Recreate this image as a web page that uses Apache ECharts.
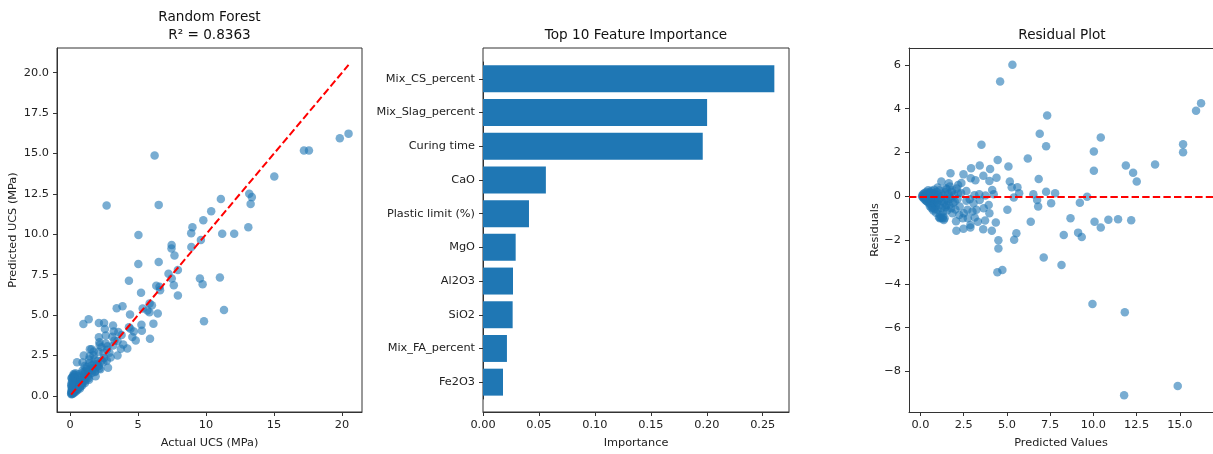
<!DOCTYPE html>
<html>
<head>
<meta charset="utf-8">
<script src="https://cdn.jsdelivr.net/npm/echarts@6.0.0/dist/echarts.min.js"></script>
<style>
  html, body { margin: 0; padding: 0; background: #ffffff; }
  #chart { width: 1213px; height: 454px; }
</style>
</head>
<body>
<div id="chart"></div>
<script>
// Test-set measurements (MPa): observed strength and the Random Forest prediction, paired by index.
const actualUCS = [
  11.32, 9.85, 11.02, 9.75, 9.55, 5.88, 7.93, 6.13, 13.11, 12.07,
  11.19, 13.28, 13.37, 13.18, 15.02, 17.57, 17.20, 19.84, 20.48, 5.03,
  6.52, 2.69, 6.22, 4.33, 5.02, 0.98, 1.37, 2.12, 2.50, 3.43,
  3.86, 6.52, 7.68, 7.46, 7.47, 8.92, 9.62, 8.91, 9.00, 9.80,
  10.38, 11.09, 5.22, 4.41, 7.63, 6.34, 6.58, 6.62, 7.24, 7.48,
  7.93, 6.45, 5.84, 5.69, 6.02, 5.85, 5.34, 5.25, 5.28, 4.83,
  4.58, 4.69, 4.44, 4.33, 3.79, 3.55, 3.21, 2.63, 2.12, 2.56,
  3.16, 2.16, 3.11, 4.21, 3.91, 3.49, 3.73, 2.98, 2.70, 2.90,
  3.17, 3.49, 2.71, 2.75, 2.10, 2.31, 1.74, 1.58, 2.17, 1.45,
  1.01, 1.46, 0.51, 0.92, 1.07, 2.79, 1.88, 2.23, 2.02, 1.75,
  1.10, 0.38, 0.12, 0.27, 1.80, 2.32, 2.46, 1.73, 2.62, 3.26,
  1.68, 1.84,
  0.10, 0.17, 0.08, 0.26, 0.15, 0.22, 0.10, 0.39, 0.21, 0.34,
  0.12, 0.30, 0.54, 0.26, 0.46, 0.15, 0.38, 0.56, 0.31, 0.51,
  0.18, 0.44, 0.72, 0.36, 0.58, 0.20, 0.50, 0.89, 0.38, 0.74,
  0.20, 0.66, 0.88, 0.41, 0.63, 1.10, 0.24, 0.86, 0.62, 0.98,
  0.45, 0.82, 1.15, 0.68, 0.38, 1.07, 0.87, 0.12, 1.38, 0.72,
  1.07, 0.20, 1.32, 0.67, 1.03, 0.26, 1.34, 0.63, 1.06, 0.40,
  1.60, 0.95, 1.36, 1.84, 0.90, 1.38, 1.72, 1.24, 2.15, 1.64,
  1.23, 2.12, 1.60, 2.00, 1.42, 2.45, 2.03, 1.40, 2.50, 0.13,
  0.10, 0.10, 0.15, 0.10, 0.30, 0.73, 0.75, 1.40
];
const predictedUCS = [
  5.32, 4.61, 7.33, 6.90, 7.27, 3.53, 6.21, 4.47, 10.43, 10.03,
  10.03, 11.88, 12.30, 12.51, 13.57, 15.19, 15.19, 15.94, 16.23, 9.95,
  11.82, 11.78, 14.88, 7.13, 8.16, 4.45, 4.74, 4.51, 4.51, 5.42,
  5.55, 8.29, 8.68, 9.12, 9.33, 9.22, 9.64, 10.07, 10.43, 10.87,
  11.43, 12.19, 6.38, 5.03, 6.84, 6.81, 6.75, 6.53, 7.56, 7.27,
  7.79, 5.09, 5.17, 5.28, 5.61, 5.71, 5.40, 4.40, 4.03, 3.43,
  3.64, 3.99, 4.15, 4.24, 3.76, 3.95, 3.99, 3.74, 3.63, 4.13,
  4.36, 3.32, 3.66, 2.93, 3.18, 2.49, 2.91, 2.37, 2.18, 2.66,
  3.12, 3.40, 2.85, 3.07, 2.72, 3.01, 2.74, 2.89, 3.14, 2.45,
  2.49, 2.89, 2.08, 2.06, 1.85, 1.74, 1.21, 1.64, 1.81, 1.99,
  1.50, 1.31, 1.12, 1.35, 2.27, 2.18, 2.66, 2.51, 3.24, 3.43,
  1.70, 1.47,
  0.10, 0.12, 0.14, 0.16, 0.18, 0.20, 0.22, 0.24, 0.26, 0.28,
  0.30, 0.32, 0.34, 0.36, 0.38, 0.40, 0.42, 0.44, 0.46, 0.48,
  0.50, 0.52, 0.54, 0.56, 0.58, 0.60, 0.62, 0.64, 0.66, 0.68,
  0.70, 0.72, 0.74, 0.76, 0.78, 0.80, 0.82, 0.84, 0.86, 0.88,
  0.90, 0.92, 0.95, 0.98, 1.00, 1.02, 1.05, 1.07, 1.10, 1.12,
  1.15, 1.18, 1.20, 1.22, 1.25, 1.28, 1.30, 1.33, 1.36, 1.40,
  1.42, 1.45, 1.48, 1.52, 1.55, 1.58, 1.62, 1.66, 1.70, 1.74,
  1.78, 1.84, 1.90, 1.95, 2.02, 2.10, 2.15, 2.25, 2.35, 0.35,
  0.55, 0.65, 0.90, 0.75, 1.15, 0.45, 0.60, 1.00
];
const r2Score = '0.8363';

// Ten most important features of the fitted forest, largest first.
const featureNames = [
  'Mix_CS_percent', 'Mix_Slag_percent', 'Curing time', 'CaO', 'Plastic limit (%)',
  'MgO', 'Al2O3', 'SiO2', 'Mix_FA_percent', 'Fe2O3'
];
const featureImportance = [
  0.2604, 0.2003, 0.1964, 0.0562, 0.0411, 0.0292, 0.0268, 0.0265, 0.0214, 0.0179
];

// Tick positions for each axis.
const parityXTicks = [0, 5, 10, 15, 20];
const parityYTicks = [0, 2.5, 5, 7.5, 10, 12.5, 15, 17.5, 20];
const importanceTicks = [0, 0.05, 0.10, 0.15, 0.20, 0.25];
const residualXTicks = [0, 2.5, 5, 7.5, 10, 12.5, 15];
const residualYTicks = [-8, -6, -4, -2, 0, 2, 4, 6];

// Derived series
const parityPoints = actualUCS.map((a, i) => [a, predictedUCS[i]]);
const residualPoints = actualUCS.map((a, i) => [predictedUCS[i], +(a - predictedUCS[i]).toFixed(2)]);
const lo = Math.min(...actualUCS), hi = Math.max(...actualUCS);

const FONT = 'DejaVu Sans';
const INK = '#222';
const FRAME = '#333';
const BLUE = '#1f77b4';
const DASH = [7.4, 3.2];
const TICK_FS = 11.3;
const TITLE_FS = 13.6;

function valueAxis(extra) {
  const ticks = extra.ticks;
  return {
    type: 'value',
    gridIndex: extra.gridIndex,
    min: extra.min,
    max: extra.max,
    position: extra.position,
    offset: extra.offset || 0,
    name: extra.name,
    nameLocation: 'middle',
    nameGap: extra.nameGap,
    nameTextStyle: { fontFamily: FONT, fontSize: TICK_FS, color: INK },
    axisLine: { show: true, onZero: false, lineStyle: { color: FRAME, width: 1 } },
    axisTick: { show: true, length: 4, lineStyle: { color: FRAME, width: 1 }, customValues: ticks },
    axisLabel: {
      show: true, margin: 8, fontFamily: FONT, fontSize: TICK_FS, color: INK,
      customValues: ticks, formatter: extra.fmt, hideOverlap: false
    },
    splitLine: { show: false }
  };
}

const minus = v => (v < 0 ? '\u2212' : '') + Math.abs(v);
const titleStyle = { fontFamily: FONT, fontSize: TITLE_FS, fontWeight: 'normal', color: '#111', lineHeight: 18 };

const option = {
  backgroundColor: '#ffffff',
  animation: false,
  title: [
    { text: 'Random Forest\nR\u00b2 = ' + r2Score, left: 209.5, top: 8, padding: 0, textAlign: 'center', textStyle: titleStyle },
    { text: 'Top 10 Feature Importance', left: 636, top: 26, padding: 0, textAlign: 'center', textStyle: titleStyle },
    { text: 'Residual Plot', left: 1062, top: 26, padding: 0, textAlign: 'center', textStyle: titleStyle }
  ],
  grid: [
    { left: 57, top: 48, width: 305, height: 364, show: true, borderColor: FRAME, borderWidth: 1, backgroundColor: 'transparent' },
    { left: 483, top: 48, width: 306, height: 364, show: true, borderColor: FRAME, borderWidth: 1, backgroundColor: 'transparent' },
    { left: 483, top: 62, width: 306, height: 337 },
    // residual panel reaches the canvas edge; its frame is drawn by the axes (left, bottom, top)
    { left: 909, top: 48, width: 304, height: 364 }
  ],
  xAxis: [
    valueAxis({ gridIndex: 0, min: -0.96, max: 21.47, position: 'bottom', ticks: parityXTicks,
      fmt: v => String(v), name: 'Actual UCS (MPa)', nameGap: 26 }),
    { type: 'value', gridIndex: 1, show: false, min: 0, max: 1 },
    valueAxis({ gridIndex: 2, min: 0, max: 0.2735, position: 'bottom', offset: 13, ticks: importanceTicks,
      fmt: v => v.toFixed(2), name: 'Importance', nameGap: 26 }),
    valueAxis({ gridIndex: 3, min: -0.66, max: 16.92, position: 'bottom', ticks: residualXTicks,
      fmt: v => v.toFixed(1), name: 'Predicted Values', nameGap: 26 }),
    {
      type: 'value', gridIndex: 3, position: 'top', min: -0.66, max: 16.92,
      axisLine: { show: true, onZero: false, lineStyle: { color: FRAME, width: 1 } },
      axisTick: { show: false }, axisLabel: { show: false }, splitLine: { show: false }
    }
  ],
  yAxis: [
    valueAxis({ gridIndex: 0, min: -1.0, max: 21.53, position: 'left', ticks: parityYTicks,
      fmt: v => v.toFixed(1), name: 'Predicted UCS (MPa)', nameGap: 38 }),
    { type: 'value', gridIndex: 1, show: false, min: 0, max: 1 },
    {
      type: 'category', gridIndex: 2, data: featureNames, inverse: true, position: 'left',
      axisLine: { show: true, lineStyle: { color: FRAME, width: 1 } },
      axisTick: { show: true, length: 4, alignWithLabel: true, lineStyle: { color: FRAME, width: 1 } },
      axisLabel: { margin: 8, fontFamily: FONT, fontSize: TICK_FS, color: INK, interval: 0 },
      splitLine: { show: false }
    },
    valueAxis({ gridIndex: 3, min: -9.85, max: 6.77, position: 'left', ticks: residualYTicks,
      fmt: minus, name: 'Residuals', nameGap: 28 })
  ],
  series: [
    {
      type: 'scatter', xAxisIndex: 0, yAxisIndex: 0, data: parityPoints,
      symbol: 'circle', symbolSize: 8.5, silent: true,
      itemStyle: { color: BLUE, opacity: 0.6 }, z: 2
    },
    {
      type: 'line', xAxisIndex: 0, yAxisIndex: 0, data: [[lo, lo], [hi, hi]],
      symbol: 'none', silent: true,
      lineStyle: { color: '#ff0000', width: 2, type: DASH }, z: 3
    },
    {
      type: 'bar', xAxisIndex: 2, yAxisIndex: 2, data: featureImportance,
      barCategoryGap: '20%', silent: true,
      itemStyle: { color: BLUE }
    },
    {
      type: 'scatter', xAxisIndex: 3, yAxisIndex: 3, data: residualPoints,
      symbol: 'circle', symbolSize: 8.5, silent: true,
      itemStyle: { color: BLUE, opacity: 0.6 }, z: 2,
      markLine: {
        silent: true, symbol: 'none', label: { show: false },
        lineStyle: { color: '#ff0000', width: 2, type: DASH },
        data: [{ yAxis: 0 }], z: 3
      }
    }
  ]
};

const chart = echarts.init(document.getElementById('chart'), null, { renderer: 'canvas' });
chart.setOption(option);
</script>
</body>
</html>
